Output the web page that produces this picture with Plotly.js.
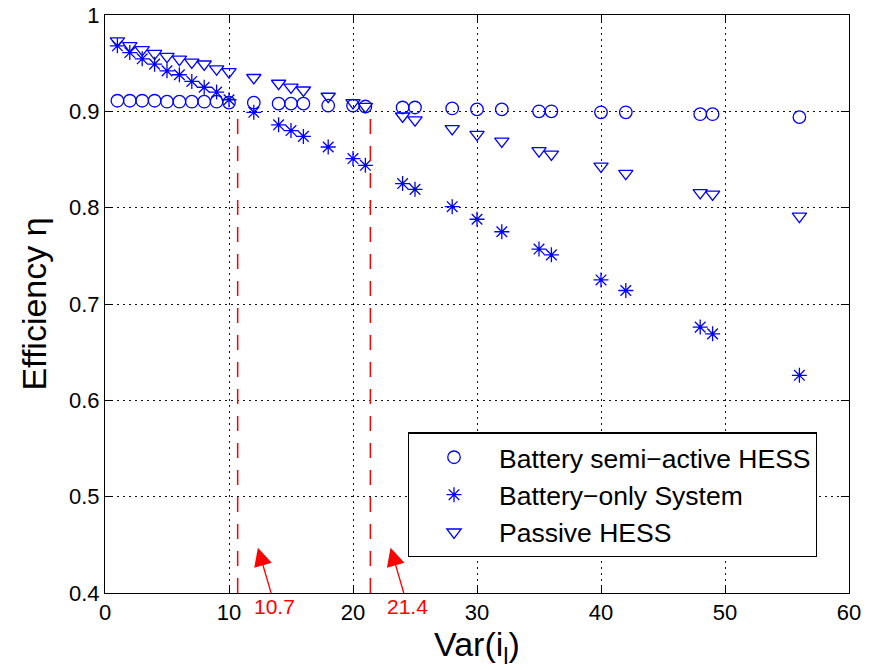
<!DOCTYPE html>
<html>
<head>
<meta charset="utf-8">
<script src="https://cdn.plot.ly/plotly-3.0.1.min.js"></script>
<style>html,body{margin:0;padding:0;background:#fff;}#plot{width:870px;height:670px;}</style>
</head>
<body>
<div id="plot"></div>
<script>
// Data
var varIl = [1,2,3,4,5,6,7,8,9,10,12,14,15,16,18,20,21,24,25,28,30,32,35,36,40,42,48,49,56];
var semiActive = [0.911,0.911,0.911,0.911,0.910,0.910,0.910,0.910,0.910,0.909,0.909,0.908,0.908,0.908,0.906,0.906,0.905,0.904,0.904,0.903,0.902,0.902,0.900,0.900,0.899,0.899,0.897,0.897,0.894];
var batteryOnly = [0.968,0.961,0.9545,0.949,0.942,0.938,0.931,0.925,0.920,0.912,0.899,0.886,0.880,0.874,0.863,0.851,0.844,0.825,0.819,0.801,0.788,0.775,0.757,0.751,0.725,0.714,0.676,0.669,0.626];
var passive = [0.973,0.968,0.964,0.960,0.957,0.954,0.951,0.949,0.944,0.941,0.935,0.929,0.925,0.922,0.9155,0.909,0.905,0.895,0.891,0.882,0.876,0.869,0.859,0.8555,0.843,0.8355,0.8155,0.814,0.791];
var seriesNames = ["Battery semi\u2212active HESS", "Battery\u2212only System", "Passive HESS"];
var thresholds = [10.7, 21.4];
var thresholdLabels = ["10.7", "21.4"];
var thresholdTops = [0.897, 0.894];
var yTicks = [0.4,0.5,0.6,0.7,0.8,0.9,1];
var yTickText = ["0.4","0.5","0.6","0.7","0.8","0.9","1"];
var xTicks = [0,10,20,30,40,50,60];

var FONT = "Liberation Sans, Arial, sans-serif";
var BLUE = "#0000ff";

var traces = [
  {x: varIl, y: semiActive, name: seriesNames[0], mode: "markers", type: "scatter",
   marker: {symbol: "circle-open", size: 12.5, color: BLUE, line: {width: 1.3, color: BLUE}}},
  {x: varIl, y: batteryOnly, name: seriesNames[1], mode: "markers", type: "scatter",
   marker: {symbol: "asterisk-open", size: 12.5, color: BLUE, line: {width: 1.3, color: BLUE}}},
  {x: varIl, y: passive, name: seriesNames[2], mode: "markers", type: "scatter",
   marker: {symbol: "triangle-down-open", size: 12.5, color: BLUE, line: {width: 1.3, color: BLUE}}}
];
thresholds.forEach(function(t, i){
  traces.push({x: [t, t], y: [yTicks[0], thresholdTops[i]], mode: "lines", type: "scatter",
    showlegend: false, hoverinfo: "skip",
    line: {color: "#ff0000", width: 1.5, dash: "15px,12px"}});
});

var annotations = thresholds.map(function(t, i){
  return {
    x: t + 1.63, y: 0.447, xref: "x", yref: "y",
    ax: t + 3.0, ay: 0.3865, axref: "x", ayref: "y",
    text: thresholdLabels[i], showarrow: true,
    arrowhead: 2, arrowsize: 2.8, arrowwidth: 1.3, arrowcolor: "#ff0000",
    font: {family: FONT, size: 21, color: "#ff0000"}
  };
});

var axisCommon = {
  showline: true, linecolor: "#000", linewidth: 1, mirror: "ticks",
  ticks: "inside", ticklen: 8, tickcolor: "#000", tickwidth: 1,
  showgrid: true, gridcolor: "#111", gridwidth: 1, griddash: "2px,4px",
  zeroline: false, tickfont: {family: FONT, size: 22, color: "#000"}
};

var layout = {
  width: 870, height: 670,
  margin: {l: 105, r: 21, t: 15, b: 77},
  paper_bgcolor: "#fff", plot_bgcolor: "#fff",
  font: {family: FONT},
  xaxis: Object.assign({}, axisCommon, {
    range: [0, 60], tickvals: xTicks, ticktext: xTicks.map(String),
    title: {text: "Var(i<sub>l</sub>)", font: {family: FONT, size: 34, color: "#000"}, standoff: 6}
  }),
  yaxis: Object.assign({}, axisCommon, {
    range: [0.4, 1], tickvals: yTicks, ticktext: yTickText,
    title: {text: "Efficiency \u03b7", font: {family: FONT, size: 34, color: "#000"}, standoff: 12}
  }),
  legend: {
    x: 0.407, y: 0.278, xanchor: "left", yanchor: "top",
    bgcolor: "#fff", bordercolor: "#000", borderwidth: 1.2,
    font: {family: FONT, size: 26.5, color: "#000"},
    itemwidth: 80, tracegroupgap: 0
  },
  annotations: annotations,
  showlegend: true
};

Plotly.newPlot("plot", traces, layout, {staticPlot: true, displayModeBar: false});
</script>
</body>
</html>
